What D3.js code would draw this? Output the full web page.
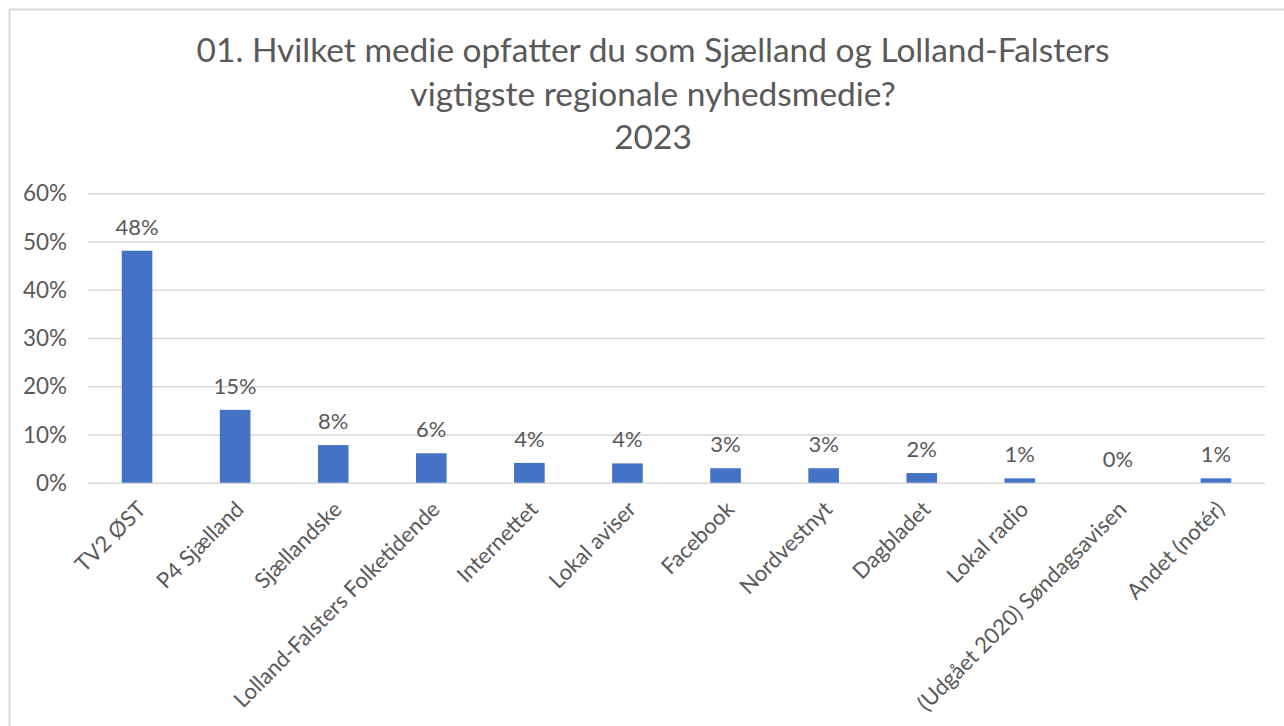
<!DOCTYPE html>
<html>
<head>
<meta charset="utf-8">
<script src="https://cdn.jsdelivr.net/npm/d3@7"></script>
<style>
  html, body { margin: 0; padding: 0; background: #ffffff; }
  svg { display: block; }
  text { font-family: Lato, "Open Sans", sans-serif; fill: #595959; }
</style>
</head>
<body>
<svg id="chart" width="1284" height="726"></svg>
<script>
const titleLines = [
  "01. Hvilket medie opfatter du som Sjælland og Lolland-Falsters",
  "vigtigste regionale nyhedsmedie?",
  "2023"
];
const categories = [
  "TV2 ØST",
  "P4 Sjælland",
  "Sjællandske",
  "Lolland-Falsters Folketidende",
  "Internettet",
  "Lokal aviser",
  "Facebook",
  "Nordvestnyt",
  "Dagbladet",
  "Lokal radio",
  "(Udgået 2020) Søndagsavisen",
  "Andet (notér)"
];
const values = [0.481, 0.151, 0.078, 0.061, 0.041, 0.040, 0.030, 0.030, 0.020, 0.009, 0.000, 0.009];
const yTicks = [0, 0.1, 0.2, 0.3, 0.4, 0.5, 0.6];

const svg = d3.select("#chart");
const W = 1284, H = 726;
svg.append("rect").attr("width", W).attr("height", H).attr("fill", "#ffffff");
svg.append("path").attr("d", `M9.5,${H} V9.5 H${W}`)
  .attr("fill", "none").attr("stroke", "#d9d9d9").attr("stroke-width", 2);

// font scale: fit title line 1 to reference width
const probe = svg.append("text").attr("font-size", 32).text(titleLines[0]);
const k = 913 / probe.node().getComputedTextLength();
probe.remove();

const x = d3.scaleBand().domain(categories).range([88, 1265])
  .paddingInner(0.688).paddingOuter(0.344);
const y = d3.scaleLinear().domain([0, 0.6]).range([482.7, 193.3]);
const pct = d3.format(".0%");

// title
svg.append("g").selectAll("text").data(titleLines).join("text")
  .attr("x", 653).attr("y", (d, i) => 62 + i * 43.5)
  .attr("text-anchor", "middle")
  .attr("font-size", 32 * k)
  .text(d => d);

// gridlines + y labels via axis
const yAxis = d3.axisLeft(y).tickValues(yTicks).tickFormat(pct)
  .tickSize(-(1265 - 88)).tickPadding(21);
const gy = svg.append("g").attr("transform", "translate(88,0)").call(yAxis);
gy.select(".domain").remove();
gy.selectAll(".tick line").attr("stroke", "#d9d9d9").attr("stroke-width", 1.6);
gy.selectAll(".tick text").attr("font-size", 21.5 * k).attr("fill", "#595959")
  .attr("font-family", "Lato, 'Open Sans', sans-serif").attr("dy", "0.34em");

// bars
svg.append("g").selectAll("rect").data(values).join("rect")
  .attr("x", (d, i) => x(categories[i]))
  .attr("width", x.bandwidth())
  .attr("y", d => y(d))
  .attr("height", d => y(0) - y(d))
  .attr("fill", "#4472c4");

// data labels
svg.append("g").selectAll("text").data(values).join("text")
  .attr("x", (d, i) => x(categories[i]) + x.bandwidth() / 2)
  .attr("y", d => y(d) - 16)
  .attr("text-anchor", "middle")
  .attr("font-size", 21 * k)
  .text(d => pct(d));

// category labels
const xAxis = d3.axisBottom(x).tickSize(0).tickPadding(0);
const gx = svg.append("g").attr("transform", `translate(0,${y(0)})`).call(xAxis);
gx.select(".domain").remove();
gx.selectAll(".tick text")
  .attr("font-size", 21 * k).attr("fill", "#595959")
  .attr("font-family", "Lato, 'Open Sans', sans-serif")
  .attr("text-anchor", "end")
  .attr("x", 0).attr("y", 0).attr("dy", 0)
  .attr("transform", "translate(10,28) rotate(-45)");
</script>
</body>
</html>
